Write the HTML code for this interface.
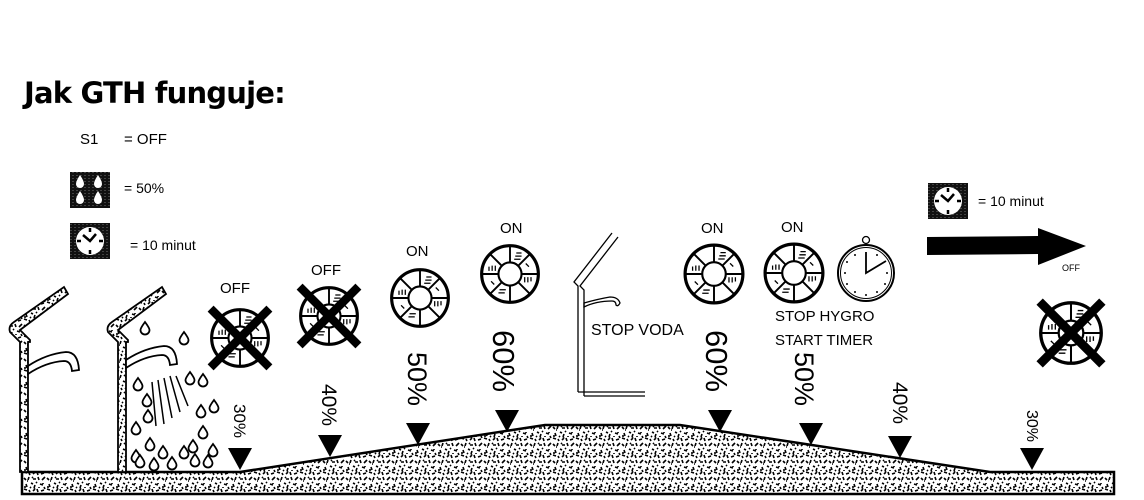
<!DOCTYPE html>
<html><head><meta charset="utf-8"><style>
html,body{margin:0;padding:0;background:#fff;width:1144px;height:500px;overflow:hidden}
svg{display:block}
text{font-family:"Liberation Sans",sans-serif;fill:#000}
</style></head><body>
<svg width="1144" height="500" viewBox="0 0 1144 500" xmlns="http://www.w3.org/2000/svg">
<defs>
<pattern id="sp" width="23" height="17" patternUnits="userSpaceOnUse">
<rect width="23" height="17" fill="#fff"/>
<g stroke="#000" stroke-width="1.6">
<path d="M1 2l2 2M6 1l-1 3M10 3l3 0M15 1l1 3M19 4l2-2M3 8l1 3M8 7l2 1M12 9l-1 3M17 8l3 1M21 11l1 2M1 13l3 1M6 14l1 2M10 15l2-2M14 13l1 3M18 15l3-1M4 5l1 0M13 6l1 1M20 7l0 1M7 11l1 1M16 11l0 1M9 1l1 1M2 10l0 2M22 1l-1 1M11 12l1 1"/>
</g>
</pattern>
<pattern id="dk" width="4" height="3" patternUnits="userSpaceOnUse"><rect width="4" height="3" fill="#111"/><path d="M0 1.5h2" stroke="#555" stroke-width="0.7"/></pattern>
<path id="dr" d="M0 0q-4.5 6-4.5 8a4.5 4.5 0 0 0 9 0q0-2-4.5-8Z"/>
<g id="fan">
<circle r="27" fill="#fff" stroke="#000" stroke-width="3"/>
<circle r="11" fill="#fff" stroke="#000" stroke-width="2"/>
<g stroke="#000" stroke-width="1.8">
<path d="M0 -11V-26M7.8 -7.8L18.4 -18.4M11 0H26M7.8 7.8L18.4 18.4M0 11V26M-7.8 7.8L-18.4 18.4M-11 0H-26M-7.8 -7.8L-18.4 -18.4"/>
<path d="M4 -14h6M5 -17h6M6 -20h5M14 3v5M17 3v5M20 3v4M-4 15h-6M-5 18h-6M-14 -3v-5M-17 -3v-5M-20 -3v-4M15 -10l3 3M-15 10l-3 -3" stroke-width="1.2"/>
</g>
</g>
<g id="xfan">
<use href="#fan"/>
<path d="M-28 -28L28 28M28 -28L-28 28" stroke="#000" stroke-width="8"/>
</g>
<g id="tri"><path d="M-12 -22H12L0 0Z" fill="#000"/></g>
<g id="clk">
<rect x="0" y="0" width="40" height="36" fill="url(#dk)"/>
<circle cx="20" cy="18" r="14" fill="#fff"/>
<path d="M20 5v4M20 27v4M7 18h4M29 18h4" stroke="#000" stroke-width="2.5"/>
<path d="M13 12L20 18L26 11" stroke="#000" stroke-width="2.5" fill="none"/>
</g>
<path id="tap" d="M0 10Q18 -2 38 -4Q50 -4 51 14L44 15Q43 5 36 5Q18 6 0 18Z"/>
</defs>

<text x="24" y="103" font-size="29" font-weight="bold" style="font-family:'DejaVu Sans',sans-serif" letter-spacing="-0.8">Jak GTH funguje:</text>
<text x="80" y="144" font-size="15">S1</text>
<text x="124" y="144" font-size="15">= OFF</text>

<rect x="70" y="172" width="40" height="36" fill="url(#dk)"/>
<g fill="#fff"><path d="M80 175q-4 6-4 9a4 4 0 0 0 8 0q0-3-4-9Z"/><path d="M98 175q-4 6-4 9a4 4 0 0 0 8 0q0-3-4-9Z"/><path d="M80 191q-4 6-4 9a4 4 0 0 0 8 0q0-3-4-9Z"/><path d="M98 191q-4 6-4 9a4 4 0 0 0 8 0q0-3-4-9Z"/></g>
<text x="124" y="193" font-size="14">= 50%</text>
<use href="#clk" x="70" y="223"/>
<text x="130" y="250" font-size="14">= 10 minut</text>
<use href="#clk" x="928" y="183"/>
<text x="978" y="206" font-size="14">= 10 minut</text>
<path d="M927 237L1038 236V228L1086 246L1038 265V254L927 255Z" fill="#000"/>
<text x="1062" y="271" font-size="9">OFF</text>

<!-- ground -->
<path d="M22 472H240L545 425H680L990 472H1114V494H22Z" fill="url(#sp)" stroke="#000" stroke-width="2.5"/>

<!-- houses -->
<g stroke="#000" stroke-width="1.8" fill="url(#sp)">
<path d="M20 472V342L10 332Q8 326 14 322L64 287L68 294L20 330L30 340V342H28V472Z"/>
<path d="M118 472V342L108 332Q106 326 112 322L162 287L166 294L118 330L128 340V342H126V472Z"/>
</g>
<g fill="#fff" stroke="#000" stroke-width="1.8">
<use href="#tap" x="28" y="356"/>
<use href="#tap" x="126" y="350"/>
</g>
<g fill="none" stroke="#000">
<path d="M578 392V286L574 282L612 233M584 396V290L580 286L618 237M578 392H645M584 396H645" stroke-width="1.3"/>
<path d="M584 303q14-4 26-6 8 0 10 6-2 4-4 2 0-4-4-4-16 0-28 6Z" stroke-width="1.3"/>
<path d="M152 382l4 44M158 380l6 44M164 378l8 40M170 376l10 36M176 376l12 30" stroke-width="1.5"/>
</g>
<g fill="#fff" stroke="#000" stroke-width="1.8">
<use href="#dr" x="145" y="322"/><use href="#dr" x="184" y="332"/><use href="#dr" x="138" y="378"/><use href="#dr" x="190" y="372"/><use href="#dr" x="203" y="374"/><use href="#dr" x="147" y="394"/><use href="#dr" x="214" y="400"/><use href="#dr" x="148" y="410"/><use href="#dr" x="201" y="405"/><use href="#dr" x="136" y="422"/><use href="#dr" x="203" y="426"/><use href="#dr" x="150" y="438"/><use href="#dr" x="193" y="440"/><use href="#dr" x="213" y="444"/><use href="#dr" x="136" y="450"/><use href="#dr" x="163" y="446"/><use href="#dr" x="184" y="446"/><use href="#dr" x="195" y="454"/><use href="#dr" x="140" y="455"/><use href="#dr" x="154" y="458"/><use href="#dr" x="172" y="457"/><use href="#dr" x="208" y="455"/>
</g>

<!-- fans -->
<use href="#xfan" transform="translate(240,338) scale(1.05)"/>
<use href="#xfan" transform="translate(329,316) scale(1.05)"/>
<use href="#fan" transform="translate(420,298) scale(1.05)"/>
<use href="#fan" transform="translate(510,274) scale(1.05)"/>
<use href="#fan" transform="translate(714,274) scale(1.07)"/>
<use href="#fan" transform="translate(794,273) scale(1.07)"/>
<use href="#xfan" transform="translate(1071,333) scale(1.12)"/>
<g>
<circle cx="866" cy="273" r="28" fill="#fff" stroke="#000" stroke-width="2"/>
<circle cx="866" cy="273" r="25.5" fill="none" stroke="#000" stroke-width="1"/>
<circle cx="866" cy="240" r="3.5" fill="#fff" stroke="#000" stroke-width="1.3"/>
<path d="M866 252V273L886 261" stroke="#000" stroke-width="1.8" fill="none"/>
<g fill="#000"><circle cx="866" cy="295" r="1"/><circle cx="845" cy="273" r="1"/><circle cx="887" cy="273" r="1"/><circle cx="855" cy="255" r="1"/><circle cx="877" cy="292" r="1"/><circle cx="855" cy="292" r="1"/><circle cx="847" cy="262" r="1"/><circle cx="885" cy="284" r="1"/><circle cx="847" cy="284" r="1"/><circle cx="877" cy="255" r="1"/></g>
</g>
<text x="220" y="293" font-size="15">OFF</text>
<text x="311" y="275" font-size="15">OFF</text>
<text x="406" y="256" font-size="15">ON</text>
<text x="500" y="233" font-size="15">ON</text>
<text x="701" y="233" font-size="15">ON</text>
<text x="781" y="232" font-size="15">ON</text>
<text x="591" y="335" font-size="16">STOP VODA</text>
<text x="775" y="321" font-size="15">STOP HYGRO</text>
<text x="775" y="345" font-size="15">START TIMER</text>

<!-- markers -->
<use href="#tri" x="240" y="470"/>
<use href="#tri" x="330" y="457"/>
<use href="#tri" x="418" y="445"/>
<use href="#tri" x="507" y="432"/>
<use href="#tri" x="720" y="432"/>
<use href="#tri" x="811" y="445"/>
<use href="#tri" x="900" y="458"/>
<use href="#tri" x="1032" y="470"/>
<text transform="translate(234,404) rotate(90)" font-size="17">30%</text>
<text transform="translate(322,384) rotate(90)" font-size="21">40%</text>
<text transform="translate(408,352) rotate(90)" font-size="27">50%</text>
<text transform="translate(493,330) rotate(90)" font-size="31">60%</text>
<text transform="translate(706,330) rotate(90)" font-size="31">60%</text>
<text transform="translate(795,352) rotate(90)" font-size="27">50%</text>
<text transform="translate(893,382) rotate(90)" font-size="21">40%</text>
<text transform="translate(1027,410) rotate(90)" font-size="16">30%</text>
</svg>
</body></html>
